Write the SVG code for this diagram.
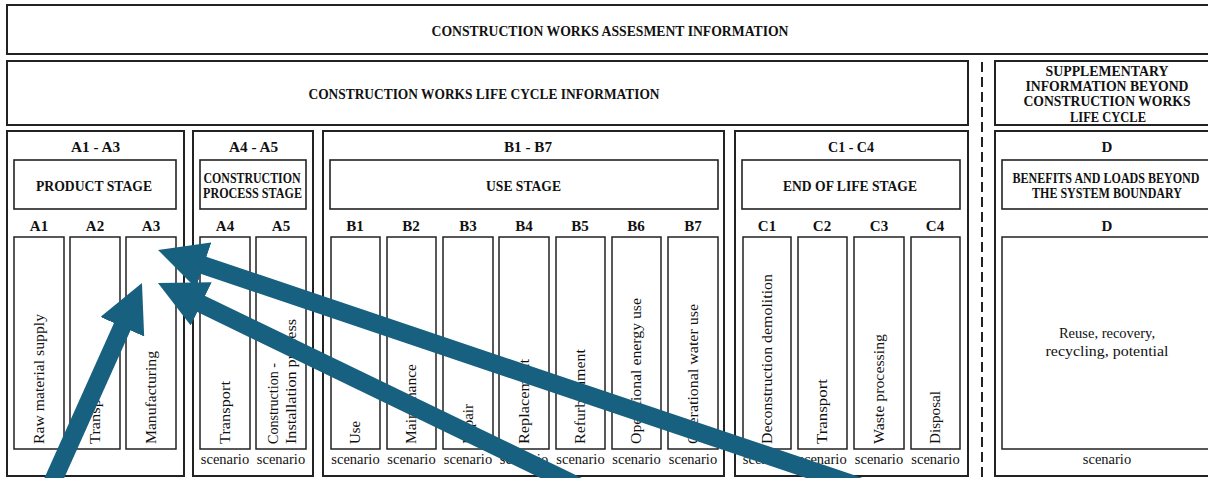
<svg xmlns="http://www.w3.org/2000/svg" width="1208" height="478" viewBox="0 0 1208 478">
<style>
.ob{fill:#fff;stroke:#222;stroke-width:2}
.ib{fill:#fff;stroke:#222;stroke-width:1.6}
.cb{fill:#fff;stroke:#222;stroke-width:1.5}
.h{font-family:"Liberation Serif",serif;font-weight:bold;font-size:15px;fill:#111;text-anchor:middle}
.hs{font-family:"Liberation Serif",serif;font-weight:bold;font-size:14px;fill:#111;text-anchor:middle}
.v{font-family:"Liberation Serif",serif;font-size:15px;fill:#111}
.s{font-family:"Liberation Serif",serif;font-size:14.5px;fill:#111;text-anchor:middle}
.arr{stroke:#17607f;stroke-width:18;fill:none;marker-end:url(#ah)}
</style>
<defs>
<marker id="ah" markerUnits="userSpaceOnUse" markerWidth="48" markerHeight="48" viewBox="0 0 48 48" refX="1" refY="24" orient="auto">
<path d="M0,0 L48,24 L0,48 Z" fill="#17607f"/>
</marker>
</defs>
<rect width="1208" height="478" fill="#fff"/>

<g id="assessment">
<rect class="ob" x="7" y="5" width="1215" height="49"/>
<text class="h" x="610" y="35.5" textLength="357" lengthAdjust="spacingAndGlyphs">CONSTRUCTION WORKS ASSESMENT INFORMATION</text>
</g>

<g id="lifecycle">
<rect class="ob" x="7" y="61" width="961" height="64"/>
<text class="h" x="484" y="99" textLength="351" lengthAdjust="spacingAndGlyphs">CONSTRUCTION WORKS LIFE CYCLE INFORMATION</text>
</g>

<g id="supplementary">
<rect class="ob" x="995" y="61" width="225" height="64"/>
<text class="h" x="1107" y="76" textLength="123" lengthAdjust="spacingAndGlyphs">SUPPLEMENTARY</text>
<text class="h" x="1107" y="91" textLength="163" lengthAdjust="spacingAndGlyphs">INFORMATION BEYOND</text>
<text class="h" x="1107" y="106" textLength="167" lengthAdjust="spacingAndGlyphs">CONSTRUCTION WORKS</text>
<text class="h" x="1108" y="121.5" textLength="76" lengthAdjust="spacingAndGlyphs">LIFE CYCLE</text>
</g>

<line x1="982" y1="62" x2="982" y2="478" stroke="#222" stroke-width="2" stroke-dasharray="10,5"/>

<g id="stageA13">
<rect class="ob" x="7" y="131" width="177" height="345"/>
<text class="h" x="95.5" y="152" textLength="49" lengthAdjust="spacingAndGlyphs">A1 - A3</text>
<rect class="ib" x="14" y="160" width="162" height="49"/>
<text class="h" x="94" y="190.5" textLength="116" lengthAdjust="spacingAndGlyphs">PRODUCT STAGE</text>
<text class="h" x="39" y="230.5">A1</text>
<text class="h" x="95" y="230.5">A2</text>
<text class="h" x="151" y="230.5">A3</text>
<rect class="cb" x="14" y="237" width="50" height="212"/>
<rect class="cb" x="70" y="237" width="50" height="212"/>
<rect class="cb" x="126" y="237" width="50" height="212"/>
<text class="v" transform="translate(43.5,444) rotate(-90)" textLength="130" lengthAdjust="spacingAndGlyphs">Raw material supply</text>
<text class="v" transform="translate(99.5,444) rotate(-90)" textLength="63" lengthAdjust="spacingAndGlyphs">Transport</text>
<text class="v" transform="translate(155.5,444) rotate(-90)" textLength="93" lengthAdjust="spacingAndGlyphs">Manufacturing</text>
</g>

<g id="stageA45">
<rect class="ob" x="193" y="131" width="120" height="345"/>
<text class="h" x="253.5" y="152" textLength="49" lengthAdjust="spacingAndGlyphs">A4 - A5</text>
<rect class="ib" x="200" y="160" width="106" height="49"/>
<text class="hs" x="252" y="182.5" textLength="97" lengthAdjust="spacingAndGlyphs">CONSTRUCTION</text>
<text class="hs" x="252.5" y="197.5" textLength="99" lengthAdjust="spacingAndGlyphs">PROCESS STAGE</text>
<text class="h" x="225" y="230.5">A4</text>
<text class="h" x="281" y="230.5">A5</text>
<rect class="cb" x="200" y="237" width="50" height="212"/>
<rect class="cb" x="256" y="237" width="50" height="212"/>
<text class="v" transform="translate(229.5,444) rotate(-90)" textLength="63" lengthAdjust="spacingAndGlyphs">Transport</text>
<text class="v" transform="translate(277.5,444) rotate(-90)" textLength="81" lengthAdjust="spacingAndGlyphs">Construction -</text>
<text class="v" transform="translate(295.5,444) rotate(-90)" textLength="125" lengthAdjust="spacingAndGlyphs">Installation process</text>
<text class="s" x="225" y="464">scenario</text>
<text class="s" x="281" y="464">scenario</text>
</g>

<g id="stageB">
<rect class="ob" x="323" y="131" width="401" height="345"/>
<text class="h" x="528" y="152" textLength="48" lengthAdjust="spacingAndGlyphs">B1 - B7</text>
<rect class="ib" x="330" y="160" width="388" height="49"/>
<text class="h" x="523.5" y="190.5" textLength="75" lengthAdjust="spacingAndGlyphs">USE STAGE</text>
<text class="h" x="355" y="230.5">B1</text>
<text class="h" x="411" y="230.5">B2</text>
<text class="h" x="468" y="230.5">B3</text>
<text class="h" x="524" y="230.5">B4</text>
<text class="h" x="580" y="230.5">B5</text>
<text class="h" x="636" y="230.5">B6</text>
<text class="h" x="693" y="230.5">B7</text>
<rect class="cb" x="331" y="237" width="49" height="212"/>
<rect class="cb" x="387" y="237" width="49" height="212"/>
<rect class="cb" x="443" y="237" width="50" height="212"/>
<rect class="cb" x="499" y="237" width="50" height="212"/>
<rect class="cb" x="556" y="237" width="49" height="212"/>
<rect class="cb" x="612" y="237" width="49" height="212"/>
<rect class="cb" x="668" y="237" width="50" height="212"/>
<text class="v" transform="translate(360,444) rotate(-90)" textLength="23" lengthAdjust="spacingAndGlyphs">Use</text>
<text class="v" transform="translate(416,444) rotate(-90)" textLength="80" lengthAdjust="spacingAndGlyphs">Maintenance</text>
<text class="v" transform="translate(472.5,444) rotate(-90)" textLength="40" lengthAdjust="spacingAndGlyphs">Repair</text>
<text class="v" transform="translate(528.5,444) rotate(-90)" textLength="85" lengthAdjust="spacingAndGlyphs">Replacement</text>
<text class="v" transform="translate(585,444) rotate(-90)" textLength="95" lengthAdjust="spacingAndGlyphs">Refurbishment</text>
<text class="v" transform="translate(641,444) rotate(-90)" textLength="146" lengthAdjust="spacingAndGlyphs">Operational energy use</text>
<text class="v" transform="translate(697.5,444) rotate(-90)" textLength="140" lengthAdjust="spacingAndGlyphs">Operational water use</text>
<text class="s" x="355.5" y="464">scenario</text>
<text class="s" x="411.5" y="464">scenario</text>
<text class="s" x="468" y="464">scenario</text>
<text class="s" x="524" y="464">scenario</text>
<text class="s" x="580.5" y="464">scenario</text>
<text class="s" x="636.5" y="464">scenario</text>
<text class="s" x="693" y="464">scenario</text>
</g>

<g id="stageC">
<rect class="ob" x="735" y="131" width="233" height="345"/>
<text class="h" x="851" y="152" textLength="46" lengthAdjust="spacingAndGlyphs">C1 - C4</text>
<rect class="ib" x="742" y="160" width="218" height="49"/>
<text class="h" x="850" y="190.5" textLength="134" lengthAdjust="spacingAndGlyphs">END OF LIFE STAGE</text>
<text class="h" x="767" y="230.5">C1</text>
<text class="h" x="822" y="230.5">C2</text>
<text class="h" x="879" y="230.5">C3</text>
<text class="h" x="935" y="230.5">C4</text>
<rect class="cb" x="743" y="237" width="48" height="212"/>
<rect class="cb" x="798" y="237" width="49" height="212"/>
<rect class="cb" x="854" y="237" width="50" height="212"/>
<rect class="cb" x="911" y="237" width="49" height="212"/>
<text class="v" transform="translate(771.5,444) rotate(-90)" textLength="170" lengthAdjust="spacingAndGlyphs">Deconstruction demolition</text>
<text class="v" transform="translate(827,444) rotate(-90)" textLength="65" lengthAdjust="spacingAndGlyphs">Transport</text>
<text class="v" transform="translate(883.5,444) rotate(-90)" textLength="110" lengthAdjust="spacingAndGlyphs">Waste processing</text>
<text class="v" transform="translate(940,444) rotate(-90)" textLength="53" lengthAdjust="spacingAndGlyphs">Disposal</text>
<text class="s" x="767" y="464">scenario</text>
<text class="s" x="822.5" y="464">scenario</text>
<text class="s" x="879" y="464">scenario</text>
<text class="s" x="935.5" y="464">scenario</text>
</g>

<g id="stageD">
<rect class="ob" x="995" y="131" width="225" height="345"/>
<text class="h" x="1107" y="152">D</text>
<rect class="ib" x="1002" y="160" width="212" height="49"/>
<text class="hs" x="1106" y="182.5" textLength="187" lengthAdjust="spacingAndGlyphs">BENEFITS AND LOADS BEYOND</text>
<text class="hs" x="1107" y="197.5" textLength="150" lengthAdjust="spacingAndGlyphs">THE SYSTEM BOUNDARY</text>
<text class="h" x="1107" y="230.5">D</text>
<rect class="cb" x="1002" y="237" width="212" height="212"/>
<text class="s" x="1107" y="338">Reuse, recovery,</text>
<text class="s" x="1107" y="356" textLength="123" lengthAdjust="spacingAndGlyphs">recycling, potential</text>
<text class="s" x="1107" y="464">scenario</text>
</g>

<g id="connectors">
<line class="arr" x1="48" y1="492" x2="122.7" y2="325.8"/>
<line class="arr" x1="870" y1="490" x2="202.6" y2="265"/>
<line class="arr" x1="586" y1="490" x2="200.3" y2="303.5"/>
</g>
</svg>
